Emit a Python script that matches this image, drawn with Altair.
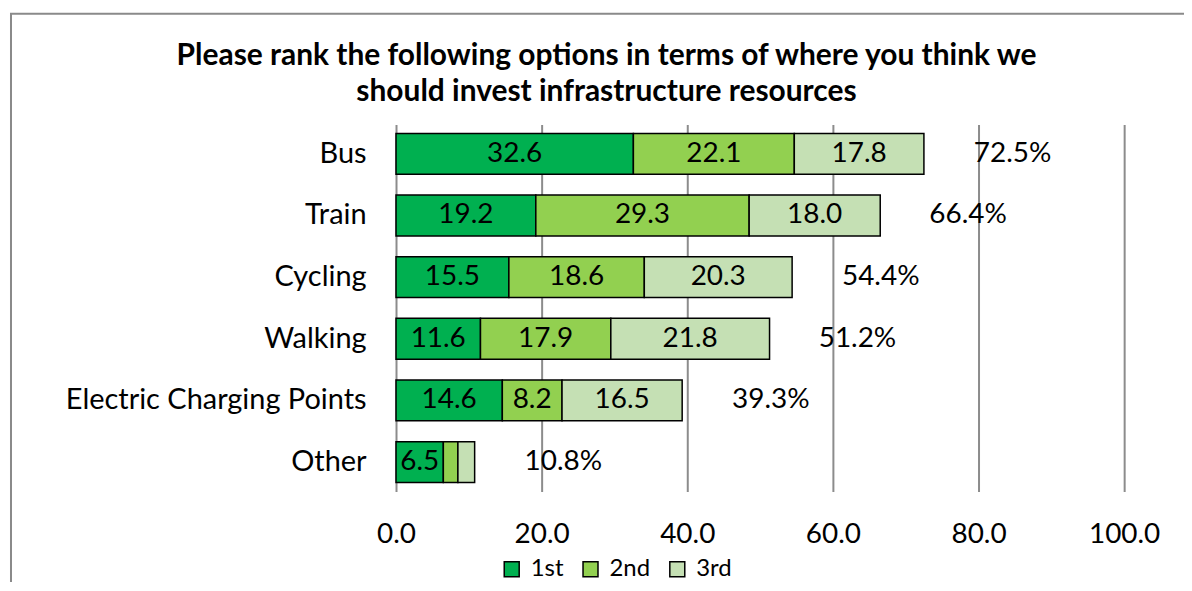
import altair as alt
import pandas as pd

categories = ["Bus", "Train", "Cycling", "Walking", "Electric Charging Points", "Other"]
ranks = ["1st", "2nd", "3rd"]
first = [32.6, 19.2, 15.5, 11.6, 14.6, 6.5]
second = [22.1, 29.3, 18.6, 17.9, 8.2, 2.0]
third = [17.8, 18.0, 20.3, 21.8, 16.5, 2.3]
totals = [72.5, 66.4, 54.4, 51.2, 39.3, 10.8]
title_lines = ["Please rank the following options in terms of where you think we",
               "should invest infrastructure resources"]

rows = []
for i, c in enumerate(categories):
    for j, (r, vals) in enumerate(zip(ranks, [first, second, third])):
        rows.append({"cat": c, "rank": r, "order": j, "value": vals[i]})
df = pd.DataFrame(rows)
tot_df = pd.DataFrame({"cat": categories, "total": totals,
                       "label": [f"{t:.1f}%" for t in totals]})

FONT = "Lato"
colors = ["#00B050", "#92D050", "#C5E0B4"]

y_enc = alt.Y("cat:N", sort=categories, title=None,
              scale=alt.Scale(paddingInner=0.337, paddingOuter=0.146),
              axis=alt.Axis(labelFontSize=29, labelFont=FONT, labelColor="#000000",
                            labelPadding=30, labelLimit=0, ticks=False, domain=False,
                            grid=False))

base = alt.Chart(df).transform_stack(
    stack="value", groupby=["cat"], as_=["x0", "x1"],
    sort=[alt.SortField("order", order="ascending")]
).transform_calculate(mid="(datum.x0 + datum.x1) / 2")

bars = base.mark_bar(stroke="#000000", strokeWidth=1.5).encode(
    x=alt.X("x0:Q", title=None,
            scale=alt.Scale(domain=[0, 100], nice=False),
            axis=alt.Axis(values=[0, 20, 40, 60, 80, 100], format=".1f",
                          labelFontSize=28, labelFont=FONT, labelColor="#000000",
                          labelPadding=29, labelFlush=False, ticks=False, domain=False,
                          grid=True, gridColor="#8c8c8c", gridWidth=2)),
    x2="x1:Q",
    y=y_enc,
    color=alt.Color("rank:N", sort=ranks,
                    scale=alt.Scale(domain=ranks, range=colors),
                    legend=alt.Legend(title=None, orient="none", direction="horizontal",
                                      legendX=104, legendY=434,
                                      symbolType="square", symbolSize=225,
                                      symbolStrokeColor="#000000", symbolStrokeWidth=1.5,
                                      labelFontSize=24, labelFont=FONT, labelColor="#000000",
                                      columnPadding=15, labelOffset=7)),
)

labels = base.transform_filter("datum.value >= 5").mark_text(
    fontSize=28, font=FONT, color="#000000"
).encode(
    x="mid:Q",
    y=alt.Y("cat:N", sort=categories),
    text=alt.Text("value:Q", format=".1f"),
)

tot_labels = alt.Chart(tot_df).mark_text(
    fontSize=28, font=FONT, color="#000000", align="left", dx=50
).encode(
    x="total:Q",
    y=alt.Y("cat:N", sort=categories),
    text="label:N",
)

frame = alt.Chart(alt.Data(values=[{}])).mark_rect(
    fill=None, stroke="#8a8a8a", strokeWidth=2
).encode(x=alt.value(-386), x2=alt.value(820), y=alt.value(-111), y2=alt.value(490))

chart = alt.layer(frame, bars, labels, tot_labels).properties(
    width=730, height=368,
    padding={"left": 389, "top": 116, "right": 60, "bottom": 90},
    autosize=alt.AutoSizeParams(type="none"),
    title=alt.TitleParams(text=title_lines, fontSize=30, font=FONT, fontWeight="bold",
                          color="#000000", anchor="middle", dx=-154, offset=-95,
                          lineHeight=37),
).configure_view(stroke=None)

chart.save("out.html", embed_options={"renderer": "svg", "actions": False})
